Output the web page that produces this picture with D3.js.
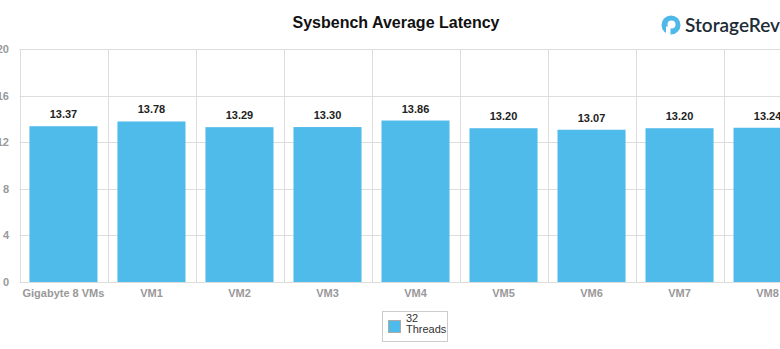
<!DOCTYPE html>
<html><head><meta charset="utf-8">
<script src="https://cdn.jsdelivr.net/npm/d3@7"></script>
<style>html,body{margin:0;padding:0;background:#fff;overflow:hidden}svg{display:block}</style>
</head><body>
<script>
const categories = ["Gigabyte 8 VMs","VM1","VM2","VM3","VM4","VM5","VM6","VM7","VM8"];
const threads32 = [13.37,13.78,13.29,13.30,13.86,13.20,13.07,13.20,13.24];
const yTicks = [0,4,8,12,16,20];
const seriesName = ["32","Threads"];
const title = "Sysbench Average Latency";

(function(){
const W = 780, H = 349;
const svg = d3.select("body").append("svg").attr("width", W).attr("height", H);
const pLeft = 19.5, band = 88, pTop = 49, pBottom = 282;
const x = d3.scaleBand().domain(categories).range([pLeft, pLeft + band*categories.length]).paddingInner(0.227).paddingOuter(0.113);
const y = d3.scaleLinear().domain([0,20]).range([pBottom, pTop]);

svg.append("g").selectAll("line").data(yTicks).join("line")
  .attr("x1", pLeft).attr("x2", pLeft + band*categories.length)
  .attr("y1", d=>Math.round(y(d))+0.5).attr("y2", d=>Math.round(y(d))+0.5)
  .attr("stroke", "#dddddd").attr("stroke-width", 1);
const bounds = d3.range(categories.length+1).map(i => pLeft + i*band);
svg.append("g").selectAll("line").data(bounds).join("line")
  .attr("x1", d=>Math.round(d)+0.5).attr("x2", d=>Math.round(d)+0.5)
  .attr("y1", pTop).attr("y2", pBottom)
  .attr("stroke", "#dddddd").attr("stroke-width", 1);

svg.append("g").selectAll("rect").data(threads32).join("rect")
  .attr("x", (d,i)=>x(categories[i])).attr("width", x.bandwidth())
  .attr("y", d=>y(d)).attr("height", d=>pBottom - y(d))
  .attr("fill", "#4fbbeb");

svg.append("g").selectAll("text").data(threads32).join("text")
  .attr("x", (d,i)=>x(categories[i]) + x.bandwidth()/2)
  .attr("y", d=>y(d) - 8)
  .attr("text-anchor","middle")
  .attr("font-family","Arial, 'Liberation Sans', sans-serif").attr("font-size", 11).attr("font-weight","bold")
  .attr("fill","#222").text(d=>d.toFixed(2));

svg.append("g").selectAll("text").data(yTicks).join("text")
  .attr("x", 9).attr("y", d=>y(d)+4)
  .attr("text-anchor","end")
  .attr("font-family","Arial, 'Liberation Sans', sans-serif").attr("font-size", 11).attr("font-weight","bold")
  .attr("fill","#999").text(d=>d);

svg.append("g").selectAll("text").data(categories).join("text")
  .attr("x", d=>x(d) + x.bandwidth()/2).attr("y", 297)
  .attr("text-anchor","middle")
  .attr("font-family","Arial, 'Liberation Sans', sans-serif").attr("font-size", 11).attr("font-weight","bold")
  .attr("fill","#999").text(d=>d);

svg.append("text").attr("x", 396).attr("y", 28).attr("text-anchor","middle")
  .attr("font-family","Arial, 'Liberation Sans', sans-serif").attr("font-size", 16).attr("font-weight","bold")
  .attr("fill","#111").text(title);

const lg = svg.append("g").attr("transform","translate(671,25)");
lg.append("circle").attr("r", 9.5).attr("fill","#4fb8e8");
lg.append("circle").attr("r", 4).attr("cx", 0.5).attr("cy", -0.5).attr("fill","#fff");
lg.append("rect").attr("x", -5).attr("y", 1.5).attr("width", 4.5).attr("height", 9).attr("fill","#fff");
svg.append("text").attr("x", 685).attr("y", 31.5)
  .attr("font-family","Lato, 'Open Sans', Arial, sans-serif").attr("font-size", 19).attr("font-weight", 600)
  .attr("fill","#1d2b36").text("StorageReview");

const leg = svg.append("g");
leg.append("rect").attr("x", 382.5).attr("y", 311.5).attr("width", 65).attr("height", 30)
  .attr("fill","#fff").attr("stroke","#cccccc");
leg.append("rect").attr("x", 388.5).attr("y", 320.5).attr("width", 12).attr("height", 12)
  .attr("fill","#4fbbeb").attr("stroke","#aaa");
leg.selectAll("text.l").data(seriesName).join("text").attr("class","l")
  .attr("x", 406).attr("y", (d,i)=>322 + i*11)
  .attr("font-family","Arial, 'Liberation Sans', sans-serif").attr("font-size", 11)
  .attr("fill","#333").text(d=>d);
})();
</script>
</body></html>
